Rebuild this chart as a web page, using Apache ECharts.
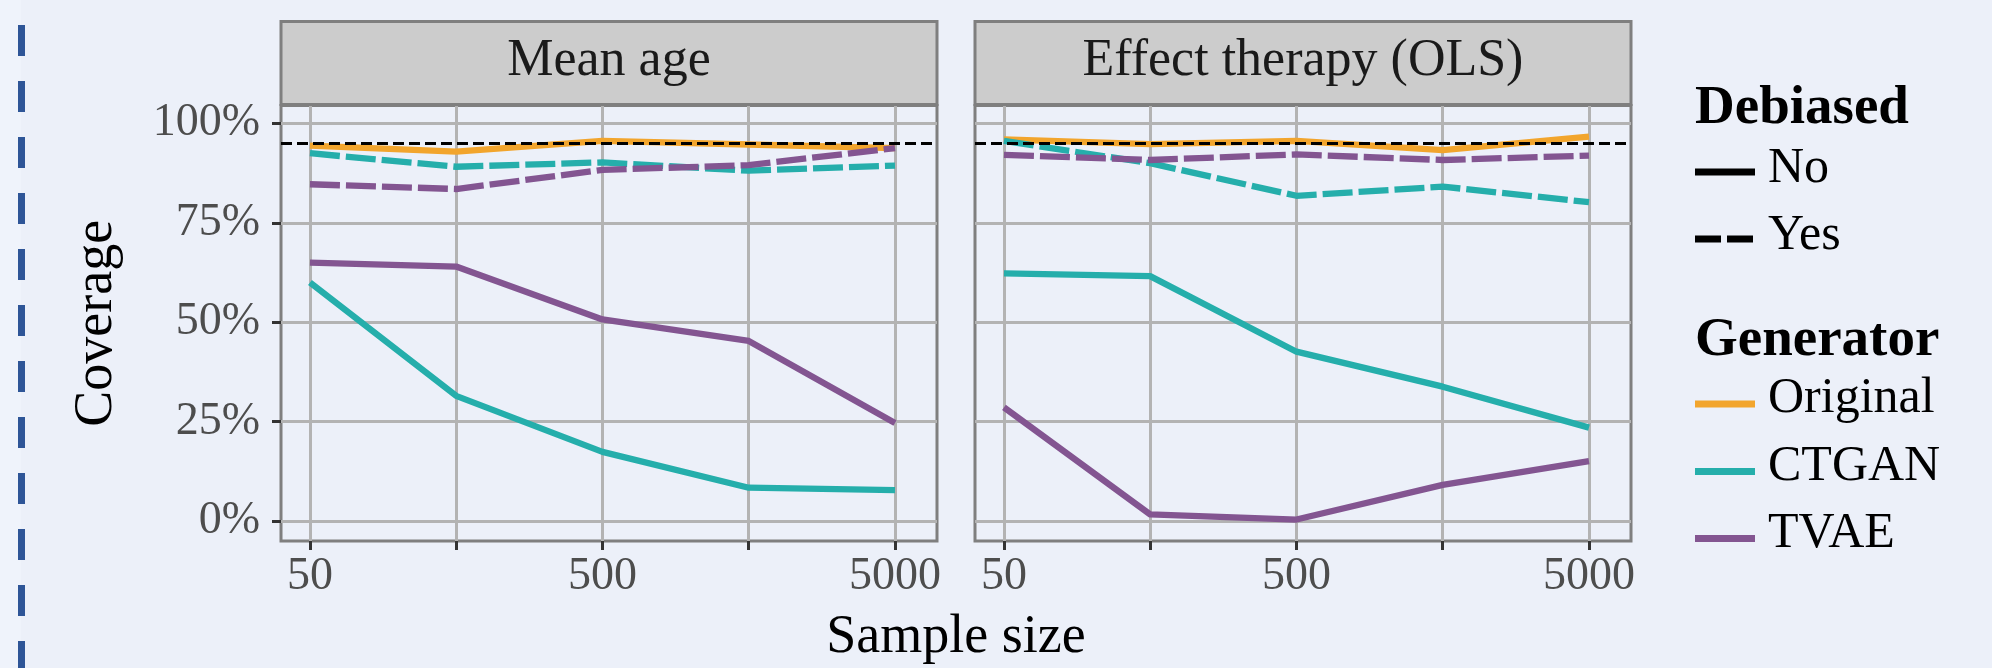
<!DOCTYPE html>
<html><head><meta charset="utf-8">
<script src="https://cdn.jsdelivr.net/npm/echarts@6/dist/echarts.min.js"></script>
<style>html,body{margin:0;padding:0;background:#ecf0f9;}#c{width:1992px;height:668px;}</style>
</head><body><div id="c"></div>
<script>
// ---------- data ----------
const sampleSizes = [50, 158, 500, 1581, 5000];
const labeledSizes = [50, 500, 5000];
const yTicks = [0, 25, 50, 75, 100];
const panels = ["Mean age", "Effect therapy (OLS)"];
const generators = ["Original", "CTGAN", "TVAE"];
const generatorColors = ["#f2a52d", "#25aeab", "#835591"];
const debiasedLevels = ["No", "Yes"];
const nominalCoverage = 95;

// Mean age (coverage %)
const meanAgeOriginalNo = [94.4, 92.9, 95.6, 94.7, 93.8];
const meanAgeCtganNo    = [60.0, 31.5, 17.4, 8.4, 7.8];
const meanAgeTvaeNo     = [65.0, 64.0, 50.7, 45.3, 24.7];
const meanAgeCtganYes   = [92.5, 89.1, 90.2, 88.1, 89.4];
const meanAgeTvaeYes    = [84.7, 83.5, 88.3, 89.5, 93.8];
// Effect therapy (OLS) (coverage %)
const effectOriginalNo = [96.0, 94.8, 95.6, 93.3, 96.7];
const effectCtganNo    = [62.3, 61.6, 42.6, 33.8, 23.5];
const effectTvaeNo     = [28.6, 1.7, 0.4, 9.1, 15.1];
const effectCtganYes   = [95.6, 90.0, 81.8, 84.1, 80.2];
const effectTvaeYes    = [92.1, 90.8, 92.2, 90.8, 91.9];

const panelSeries = [
  [
    {gen: 0, deb: 0, values: meanAgeOriginalNo},
    {gen: 1, deb: 0, values: meanAgeCtganNo},
    {gen: 2, deb: 0, values: meanAgeTvaeNo},
    {gen: 1, deb: 1, values: meanAgeCtganYes},
    {gen: 2, deb: 1, values: meanAgeTvaeYes}
  ],
  [
    {gen: 0, deb: 0, values: effectOriginalNo},
    {gen: 1, deb: 0, values: effectCtganNo},
    {gen: 2, deb: 0, values: effectTvaeNo},
    {gen: 1, deb: 1, values: effectCtganYes},
    {gen: 2, deb: 1, values: effectTvaeYes}
  ]
];

// ---------- layout / style ----------
const FONT = '"Liberation Serif", "DejaVu Serif", serif';
const gridColor = '#b3b3b3';
const borderColor = '#7f7f7f';
const gridBoxes = [
  {left: 281, top: 105.5, width: 656, height: 435.5},
  {left: 975, top: 105.5, width: 656, height: 435.5}
];
const stripTop = 21.5, stripH = 83;
const dashYes = [30, 6];
const lw = 6.3;

const chart = echarts.init(document.getElementById('c'), null, {renderer: 'canvas'});

const grids = gridBoxes.map(g => ({
  left: g.left, top: g.top, width: g.width, height: g.height,
  show: true, borderColor: borderColor, borderWidth: 3, backgroundColor: 'transparent', containLabel: false
}));

const lg = v => Math.log10(v);
const xAxes = panels.map((p, i) => ({
  type: 'value', gridIndex: i, position: 'bottom',
  min: lg(sampleSizes[0]) - 0.099,
  max: lg(sampleSizes[sampleSizes.length - 1]) + 0.1436,
  axisLine: {show: false, onZero: false},
  axisTick: {show: true, length: 9, customValues: sampleSizes.map(lg), lineStyle: {color: '#333333', width: 3}},
  axisLabel: {show: true, customValues: labeledSizes.map(lg), margin: 13,
    formatter: v => String(Math.round(Math.pow(10, v))),
    color: '#4d4d4d', fontFamily: FONT, fontSize: 46},
  splitLine: {show: true, lineStyle: {color: gridColor, width: 3}},
  minorSplitLine: {show: false}
}));
const yAxes = panels.map((p, i) => ({
  type: 'value', gridIndex: i, min: -5, max: 104.5, position: 'left',
  axisLine: {show: false, onZero: false},
  axisTick: {show: i === 0, length: 9, customValues: yTicks, lineStyle: {color: '#333333', width: 3}},
  axisLabel: {show: i === 0, customValues: yTicks, margin: 21, formatter: v => v + '%',
    color: '#4d4d4d', fontFamily: FONT, fontSize: 46},
  splitLine: {show: true, lineStyle: {color: gridColor, width: 3}}
}));

const series = [];
panelSeries.forEach((list, pi) => {
  list.forEach(s => {
    series.push({
      type: 'line', xAxisIndex: pi, yAxisIndex: pi,
      name: generators[s.gen] + ' / ' + debiasedLevels[s.deb],
      data: sampleSizes.map((n, k) => [lg(n), s.values[k]]),
      symbol: 'none', silent: true, animation: false,
      lineStyle: {color: generatorColors[s.gen], width: lw, type: s.deb ? dashYes : 'solid', cap: 'butt', join: 'round'},
      z: 3 + s.gen
    });
  });
  series.push({
    type: 'line', xAxisIndex: pi, yAxisIndex: pi, data: [], silent: true, animation: false, z: 10,
    markLine: {silent: true, symbol: 'none', animation: false, label: {show: false},
      lineStyle: {color: '#000000', width: 3, type: [11, 5]},
      data: [{yAxis: nominalCoverage}]}
  });
});

// ---------- graphics: strips, titles, legend, frame ----------
const graphic = [];
graphic.push({type: 'rect', shape: {x: 0, y: 0, width: 21, height: 668}, style: {fill: '#eff3fb'}, z: -10});
graphic.push({type: 'line', shape: {x1: 21.5, y1: 25, x2: 21.5, y2: 668},
  style: {stroke: '#2e5597', lineWidth: 7, lineDash: [31, 25]}, z: -5});

gridBoxes.forEach((g, i) => {
  graphic.push({type: 'rect', shape: {x: g.left, y: stripTop, width: g.width, height: stripH},
    style: {fill: '#cccccc', stroke: borderColor, lineWidth: 3}, z: 1});
  graphic.push({type: 'text', x: g.left + g.width / 2, y: stripTop + stripH / 2 - 2,
    style: {text: panels[i], font: '52px ' + FONT, fill: '#1a1a1a', align: 'center', verticalAlign: 'middle',
      textAlign: 'center', textVerticalAlign: 'middle'}, z: 2});
});

// axis titles
graphic.push({type: 'text', x: (gridBoxes[0].left + gridBoxes[1].left + gridBoxes[1].width) / 2, y: 638,
  style: {text: 'Sample size', font: '54px ' + FONT, fill: '#000000', align: 'center', verticalAlign: 'middle',
    textAlign: 'center', textVerticalAlign: 'middle'}});
graphic.push({type: 'text', x: 97, y: gridBoxes[0].top + gridBoxes[0].height / 2, rotation: Math.PI / 2,
  style: {text: 'Coverage', font: '54px ' + FONT, fill: '#000000', align: 'center', verticalAlign: 'middle',
    textAlign: 'center', textVerticalAlign: 'middle'}});

// legends
const legX = 1695, keyW = 60, labX = 1768;
function legText(t, x, y, bold) {
  graphic.push({type: 'text', x: x, y: y,
    style: {text: t, font: (bold ? 'bold 55px ' : '50px ') + FONT, fill: '#000000', align: 'left', verticalAlign: 'middle',
      textAlign: 'left', textVerticalAlign: 'middle'}});
}
function legKey(y, color, dash) {
  graphic.push({type: 'line', shape: {x1: legX, y1: y, x2: legX + keyW, y2: y},
    style: {stroke: color, lineWidth: 7, lineDash: dash || null, lineCap: 'butt'}});
}
legText('Debiased', legX, 109, true);
const debY = [172, 239];
debiasedLevels.forEach((d, i) => { legKey(debY[i], '#000000', i ? [26, 6] : null); legText(d, labX, debY[i] - 3, false); });
legText('Generator', legX, 341, true);
const genY = [404, 471.5, 538.5];
generators.forEach((g, i) => { legKey(genY[i], generatorColors[i], null); legText(g, labX, genY[i] - 5, false); });

chart.setOption({
  backgroundColor: '#ecf0f9',
  animation: false,
  grid: grids,
  xAxis: xAxes,
  yAxis: yAxes,
  series: series,
  graphic: graphic
});
</script></body></html>
